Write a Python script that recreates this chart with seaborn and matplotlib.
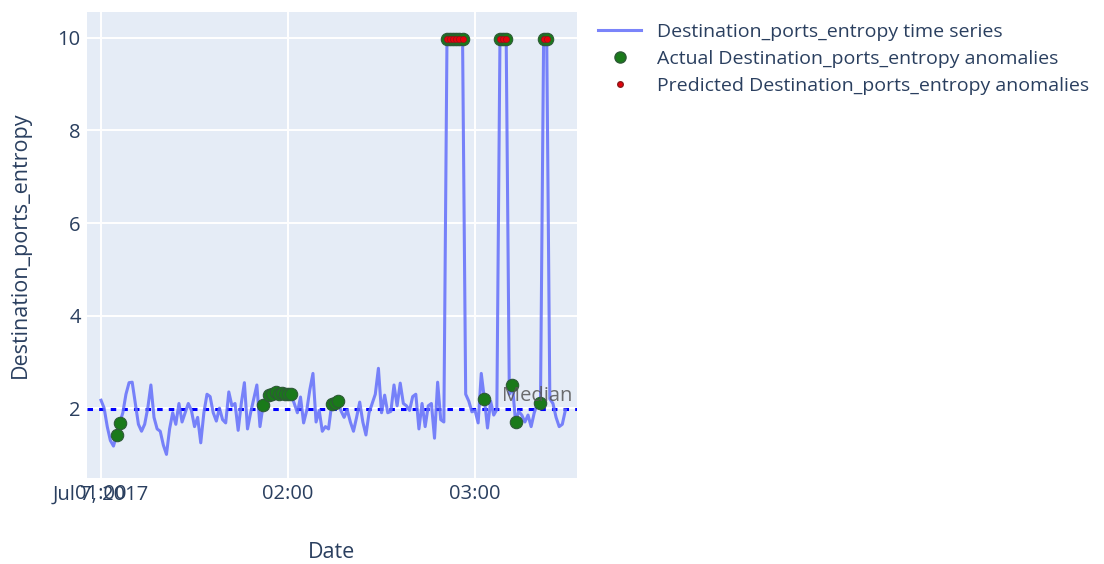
"""
Destination_ports_entropy: time series with actual vs predicted anomalies
"""
import numpy as np
import pandas as pd
import matplotlib
matplotlib.use('Agg')
import matplotlib.pyplot as plt
import matplotlib.dates as mdates
from matplotlib.lines import Line2D
import seaborn as sns

# one sample per minute starting 2017-07-07 01:00
START = '2017-07-07 01:00'
entropy = [
    2.17, 2.00, 1.60, 1.30, 1.18, 1.42, 1.68, 1.90, 2.30, 2.55,
    2.56, 2.10, 1.65, 1.50, 1.65, 2.00, 2.50, 1.80, 1.55, 1.50,
    1.20, 1.00, 1.55, 1.90, 1.65, 2.10, 1.70, 1.90, 2.10, 1.95,
    1.60, 1.80, 1.25, 1.90, 2.30, 2.25, 1.90, 1.72, 2.00, 1.75,
    1.68, 2.35, 2.05, 2.10, 1.52, 2.10, 2.55, 1.55, 1.90, 2.20,
    2.50, 1.60, 2.06, 2.25, 2.28, 2.30, 2.35, 2.30, 2.32, 2.30,
    2.30, 2.30, 2.10, 1.90, 2.24, 1.68, 1.95, 2.40, 2.75, 1.70,
    1.95, 1.50, 1.60, 1.55, 2.08, 2.12, 2.15, 1.94, 1.80, 1.96,
    1.70, 1.50, 1.80, 2.13, 1.70, 1.42, 1.90, 2.10, 2.30, 2.86,
    1.90, 2.28, 1.90, 1.93, 2.50, 2.05, 2.54, 2.10, 2.05, 1.95,
    2.25, 2.30, 1.55, 2.10, 1.60, 2.05, 2.10, 1.35, 2.56, 1.75,
    1.70, 9.97, 9.97, 9.97, 9.97, 9.97, 9.97, 2.30, 2.15, 1.92,
    1.95, 1.68, 2.75, 2.20, 1.57, 2.15, 1.85, 1.97, 9.97, 9.97,
    9.97, 2.30, 2.50, 1.70, 1.93, 1.85, 1.70, 1.85, 1.60, 1.90,
    2.10, 2.10, 9.97, 9.97, 2.20, 2.10, 1.80, 1.60, 1.65, 1.96,
]
actual_idx = [5, 6, 52, 54, 55, 56, 57, 58, 59, 60, 61, 74, 75, 76,
              111, 112, 113, 114, 115, 116, 123, 128, 129, 130,
              132, 133, 141, 142, 143]
predicted_idx = [111, 112, 113, 114, 115, 116, 128, 129, 130, 142, 143]

FEATURE = 'Destination_ports_entropy'
TEXT = '#2a3f5f'

df = pd.DataFrame({
    'Date': pd.date_range(START, periods=len(entropy), freq='min'),
    'value': entropy,
})
actual = df.iloc[actual_idx]
predicted = df.iloc[predicted_idx]
median = float(np.median(df['value']))

plt.rcParams['font.family'] = ['Open Sans', 'DejaVu Sans']
fig = plt.figure(figsize=(11.04, 5.64), dpi=100)
ax = fig.add_axes([0.0788, 0.1525, 0.4438, 0.8262])
ax.set_facecolor('#E5ECF6')
for s in ax.spines.values():
    s.set_visible(False)
ax.grid(True, color='white', linewidth=1.4)
ax.set_axisbelow(True)

sns.lineplot(data=df, x='Date', y='value', ax=ax, color='#636EFA',
             alpha=0.85, linewidth=2.2, zorder=3)
sns.scatterplot(data=actual, x='Date', y='value', ax=ax, color='#1a7a1a',
                s=80, edgecolor='#2d5a36', linewidth=0.8, zorder=4)
sns.scatterplot(data=predicted, x='Date', y='value', ax=ax, color='#e8000b',
                s=20, edgecolor='#8a1a1a', linewidth=0.5, zorder=5)

# median reference line
ax.axhline(median, color='#0000ff', linestyle=(0, (1.8, 2.0)), linewidth=2.2, zorder=2)
ax.annotate('Median', xy=(0.99, median), xycoords=('axes fraction', 'data'),
            xytext=(0, 2), textcoords='offset points', ha='right', va='bottom',
            fontsize=14.5, color='#555555', alpha=0.85, zorder=6)

t0 = pd.Timestamp(START)
ax.set_xlim(t0 - pd.Timedelta(minutes=4.5), t0 + pd.Timedelta(minutes=152.7))
ax.set_ylim(0.49, 10.56)
ax.set_yticks([2, 4, 6, 8, 10])
ticks = [t0 + pd.Timedelta(hours=h) for h in range(3)]
ax.set_xticks(ticks)
ax.set_xticklabels(['01:00', '02:00', '03:00'])
ax.annotate('Jul 7, 2017', xy=(mdates.date2num(t0), 0), xycoords=('data', 'axes fraction'),
            xytext=(0, -4.5), textcoords='offset points', ha='center', va='top',
            fontsize=14.5, color=TEXT)
ax.tick_params(axis='both', length=0, labelsize=14.5, labelcolor=TEXT, pad=4.5)
ax.set_xlabel('Date', fontsize=15.5, color=TEXT, labelpad=27)
ax.set_ylabel(FEATURE, fontsize=15.5, color=TEXT, labelpad=19)

handles = [
    Line2D([], [], color='#636EFA', alpha=0.85, linewidth=2.2),
    Line2D([], [], color='#1a7a1a', marker='o', linestyle='', markersize=8,
           markeredgecolor='#2d5a36'),
    Line2D([], [], color='#e8000b', marker='o', linestyle='', markersize=4,
           markeredgecolor='#8a1a1a'),
]
labels = [f'{FEATURE} time series', f'Actual {FEATURE} anomalies',
          f'Predicted {FEATURE} anomalies']
fig.legend(handles, labels, loc='upper left', bbox_to_anchor=(0.526, 0.99),
           frameon=False, fontsize=14.0, handlelength=2.2, handletextpad=0.8,
           labelspacing=0.45, labelcolor=TEXT)

fig.savefig('out.png', dpi=100)
plt.close(fig)
